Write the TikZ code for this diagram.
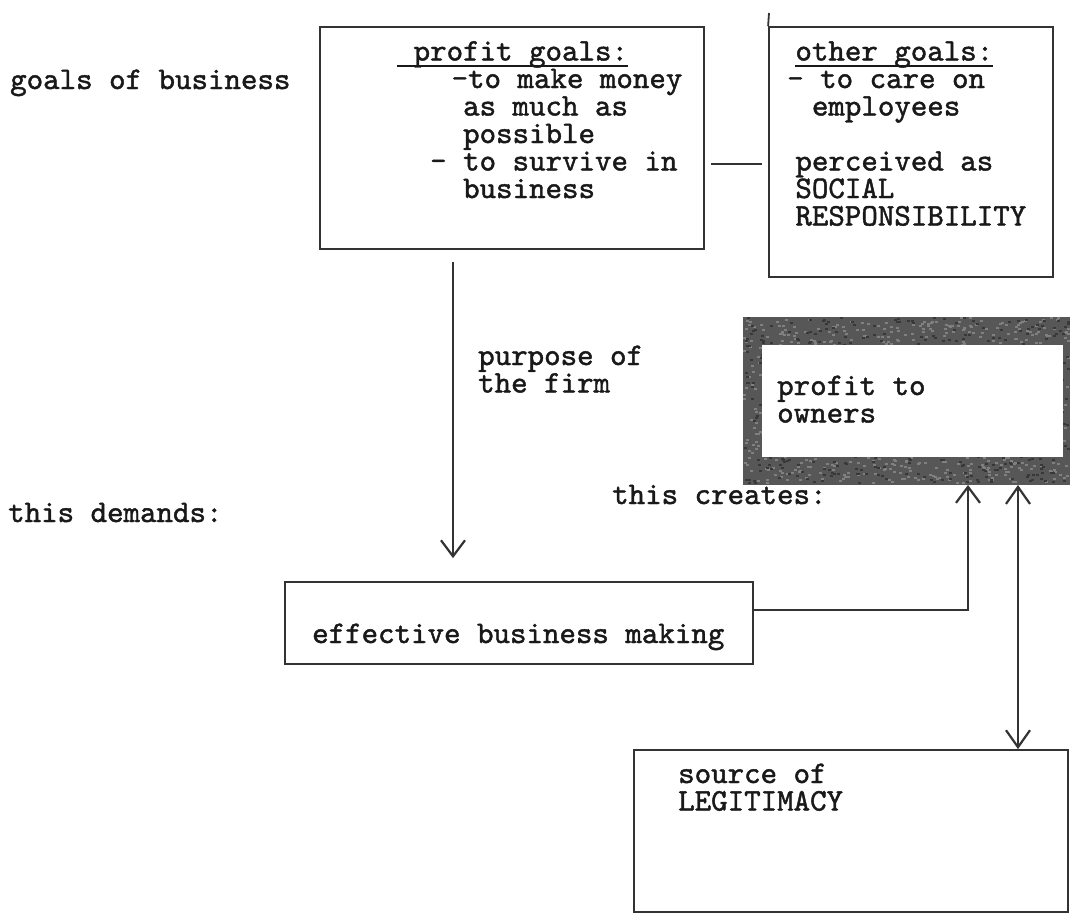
\documentclass[tikz,border=0pt]{standalone}
\usetikzlibrary{arrows.meta}
% typewriter face used for every label, slightly emboldened
\font\twface="[lmmono10-regular.otf]:embolden=1.4" at 31.4pt
\newcommand\tw{\twface\baselineskip=27.5pt\lineskiplimit=-100pt\relax}
% indent by a number of typewriter character cells
\newcommand\ind[1]{\hspace*{#1\dimexpr0.525em\relax}}
% underline resting just under the descenders
\newcommand\uln[1]{\setbox0=\hbox{#1}\rlap{\rule[-6pt]{\wd0}{1.8pt}}\box0}
\begin{document}
\begin{tikzpicture}[x=1pt,y=-1pt,
  line/.style={draw=black!80, line width=1.8pt},
  box/.style={line, rectangle, inner sep=0pt},
  lbl/.style={inner sep=0pt, anchor=base west, align=left, font=\tw, text=black!90},
  barb/.style={-{Straight Barb[length=16pt,width=24pt,line width=2.2pt]}},
  dbarb/.style={{Straight Barb[length=17pt,width=24pt,line width=2.2pt]}-{Straight Barb[length=17pt,width=24pt,line width=2.2pt]}}]

\fill[white] (0,0) rectangle (1070,914);
\useasboundingbox (0,0) rectangle (1070,914);

% boxes
\node[box, minimum width=384pt, minimum height=222pt] (pg) at (512,138) {};
\node[box, minimum width=284pt, minimum height=250pt] (og) at (911,152) {};
\coordinate (ogtop) at (769,13);
\draw[line] (og.north west) -- (ogtop);
\node[box, minimum width=468pt, minimum height=82pt] (eff) at (519,623) {};
\node[box, minimum width=434pt, minimum height=162pt] (legit) at (851,831) {};

% framed box with a heavy textured border
\node[rectangle, inner sep=0pt, outer sep=0pt, fill=black!66,
      minimum width=328pt, minimum height=168pt] (own) at (907,401) {};
\pgfmathsetseed{17}
\foreach \k in {1,...,900}{
  \pgfmathsetmacro\sx{743+rnd*324}
  \pgfmathsetmacro\sy{317+rnd*165}
  \fill[black!50] (\sx,\sy) rectangle ++(3,2);
}
\foreach \k in {1,...,700}{
  \pgfmathsetmacro\sx{743+rnd*324}
  \pgfmathsetmacro\sy{317+rnd*165}
  \fill[black!78] (\sx,\sy) rectangle ++(3,2);
}
\fill[white] (762,345) rectangle (1063,457);

% labels (a multi-line label sits on the baseline of its last line)
\node[lbl] (lgoals) at (10,89) {goals of business};
\node[lbl] (ldemands) at (8,522) {this demands:};
\node[lbl] (lpg) at (397,198) {\smash{\uln{\ind{1}profit goals:}}\\
  \ind{3.3}-to make money\\
  \ind{4}as much as\\
  \ind{4}possible\\
  \ind{2}- to survive in\\
  \ind{4}business};
\node[lbl] (log) at (787,225.5) {\ind{0.5}\smash{\uln{other goals:}}\\
  - to care on\\
  \ind{1.5}employees\\
  \mbox{}\\
  \ind{0.5}perceived as\\
  \ind{0.5}SOCIAL\\
  \ind{0.5}RESPONSIBILITY};
\node[lbl] (lpurpose) at (478,392.5) {purpose of\\the firm};
\node[lbl] (lcreates) at (612,504) {this creates:};
\node[lbl] (lown) at (777,422.5) {profit to\\owners};
\node[lbl] (leff) at (312,643) {effective business making};
\node[lbl] (llegit) at (678,810.5) {source of\\LEGITIMACY};

% connectors
\coordinate (lnk) at (0,164);
\draw[line, shorten <=6pt, shorten >=6pt] (pg.east |- lnk) -- (og.west |- lnk);
\coordinate (dx) at (453,0);
\draw[line, barb, shorten <=12pt, shorten >=23pt] (pg.south -| dx) -- (eff.north -| dx);
\coordinate (rx) at (968,610);
\draw[line, barb] (eff.east |- rx) -| (own.south -| rx);
\coordinate (bx) at (1018,0);
\draw[line, dbarb] (legit.north -| bx) -- (own.south -| bx);
\end{tikzpicture}
\end{document}
